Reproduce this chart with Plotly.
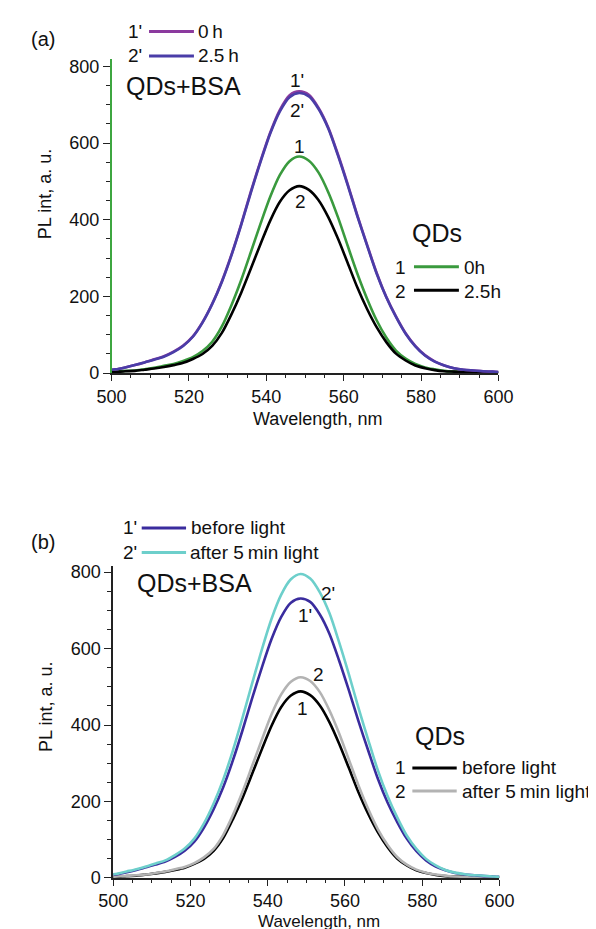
import plotly.graph_objects as go

W, H = 596, 929

# ---------------- data ----------------
WAVELENGTH = [500, 501, 503.5, 506, 508.5, 511, 513.5, 516, 518.5, 521, 523.5,
              526, 528.5, 531, 533.5, 536, 538.5, 541, 543.5, 546, 548.5,
              551, 553.5, 556, 558.5, 561, 563.5, 566, 568.5, 571, 573.5,
              576, 578.5, 581, 583.5, 586, 588.5, 591, 593.5, 596, 598.5, 600]

# panel (a)
A_BSA_0H = [9, 10, 15, 21, 28, 36, 44, 56, 72, 96, 133,
            181, 240, 310, 389, 474, 554, 628, 687, 725, 735,
            726, 692, 641, 571, 494, 412, 336, 262, 199, 148,
            104, 71, 47, 31, 20, 13, 9, 7, 5, 4, 3]
A_BSA_25H = [9, 10, 15, 21, 28, 35, 43, 55, 71, 95, 132,
             180, 238, 308, 387, 471, 551, 625, 683, 720, 731,
             722, 689, 638, 568, 491, 410, 334, 260, 198, 147,
             103, 70, 46, 30, 20, 13, 9, 7, 5, 4, 3]
A_QD_0H = [3, 4, 6, 7, 10, 14, 19, 24, 32, 42, 58,
           82, 122, 178, 243, 316, 390, 460, 517, 553, 565,
           554, 523, 472, 407, 333, 260, 195, 138, 93, 59,
           38, 24, 15, 10, 6, 4, 3, 2, 2, 1, 1]
A_QD_25H = [3, 3, 5, 6, 9, 12, 16, 21, 27, 37, 50,
            71, 105, 154, 210, 273, 337, 398, 447, 477, 488,
            478, 451, 407, 351, 288, 224, 168, 120, 81, 51,
            33, 20, 13, 8, 5, 4, 3, 2, 1, 1, 1]

# panel (b)
B_BSA_BEFORE = [9, 10, 15, 21, 28, 35, 43, 55, 71, 95, 132,
                180, 238, 308, 387, 471, 551, 625, 683, 720, 731,
                722, 689, 638, 568, 491, 410, 334, 260, 198, 147,
                103, 70, 46, 30, 20, 13, 9, 7, 5, 4, 3]
B_BSA_AFTER = [10, 11, 17, 23, 30, 38, 46, 60, 77, 103, 143,
               195, 258, 334, 420, 510, 598, 678, 741, 781, 795,
               783, 747, 692, 616, 533, 445, 362, 282, 215, 159,
               111, 76, 50, 33, 21, 14, 10, 7, 6, 4, 3]
B_QD_BEFORE = [3, 3, 5, 6, 9, 12, 16, 21, 27, 37, 50,
               71, 105, 154, 210, 273, 337, 398, 447, 477, 488,
               478, 451, 407, 351, 288, 224, 168, 120, 81, 51,
               33, 20, 13, 8, 5, 4, 3, 2, 1, 1, 1]
B_QD_AFTER = [3, 4, 5, 7, 9, 13, 17, 23, 29, 39, 54,
              76, 113, 165, 226, 294, 362, 428, 480, 513, 525,
              515, 486, 438, 378, 310, 242, 181, 128, 87, 55,
              35, 22, 14, 9, 6, 4, 3, 2, 2, 1, 1]

X_TICKS = [500, 520, 540, 560, 580, 600]
Y_TICKS = [0, 200, 400, 600, 800]

# ---------------- styling ----------------
FONT = "Liberation Sans, Arial, sans-serif"
C_PURPLE = "#8B3A9E"
C_VIOLET = "#4A3DA8"
C_GREEN = "#3A9A3E"
C_BLACK = "#000000"
C_BLUE = "#3A2C9E"
C_CYAN = "#6DCFCB"
C_GRAY = "#B3B3B3"
LW = 2.6

fig = go.Figure()


def add_curve(y, color, xa, ya):
    fig.add_trace(go.Scatter(x=WAVELENGTH, y=y, mode="lines",
                             line=dict(color=color, width=LW, shape="spline",
                                       smoothing=0.8),
                             xaxis=xa, yaxis=ya, showlegend=False,
                             hoverinfo="skip"))


# panel (a)
add_curve(A_QD_0H, C_GREEN, "x", "y")
add_curve(A_QD_25H, C_BLACK, "x", "y")
add_curve(A_BSA_0H, C_PURPLE, "x", "y")
add_curve(A_BSA_25H, C_VIOLET, "x", "y")
# panel (b)
add_curve(B_QD_BEFORE, C_BLACK, "x2", "y2")
add_curve(B_QD_AFTER, C_GRAY, "x2", "y2")
add_curve(B_BSA_BEFORE, C_BLUE, "x2", "y2")
add_curve(B_BSA_AFTER, C_CYAN, "x2", "y2")


def xaxis(domain, anchor):
    return dict(domain=domain, anchor=anchor, range=[500, 600],
                tickvals=X_TICKS, ticks="outside", ticklen=6, tickwidth=1.3,
                tickcolor="#222", showline=True, linecolor="#222", linewidth=1.5,
                showgrid=False, zeroline=False,
                tickfont=dict(family=FONT, size=18, color="#111"),
                minor=dict(dtick=5, tick0=500, ticks="outside", ticklen=3.5,
                           tickwidth=1.2, tickcolor="#222", showgrid=False))


def yaxis(domain, anchor, top, linecolor):
    return dict(domain=domain, anchor=anchor, range=[0, top],
                tickvals=Y_TICKS, ticks="outside", ticklen=7, tickwidth=1.3,
                tickcolor="#222", showline=True, linecolor=linecolor, linewidth=1.5,
                showgrid=False, zeroline=False,
                tickfont=dict(family=FONT, size=18, color="#111"),
                minor=dict(dtick=50, tick0=0, ticks="outside", ticklen=4,
                           tickwidth=1.2, tickcolor="#222", showgrid=False))


fig.update_layout(
    width=W, height=H, autosize=False,
    margin=dict(l=0, r=0, t=0, b=0),
    paper_bgcolor="white", plot_bgcolor="white",
    showlegend=False,
    xaxis=xaxis([93.3 / W, 500.7 / W], "y"),
    yaxis=yaxis([1 - 367.3 / H, 1 - 48.5 / H], "x", 820, "#3DA640"),
    xaxis2=xaxis([95 / W, 501.7 / W], "y2"),
    yaxis2=yaxis([1 - 879.3 / H, 1 - 562.8 / H], "x2", 816, "#222"),
)

ann = []
shapes = []


def txt(s, x, y, size, xanchor="center", angle=0):
    ann.append(dict(text=s, x=x / W, y=1 - y / H, xref="paper", yref="paper",
                    xanchor=xanchor, yanchor="middle", showarrow=False,
                    textangle=angle, font=dict(family=FONT, size=size, color="#111")))


def seg(x0, x1, y, color):
    shapes.append(dict(type="line", xref="paper", yref="paper",
                       x0=x0 / W, x1=x1 / W, y0=1 - y / H, y1=1 - y / H,
                       line=dict(color=color, width=3)))


# ---- panel (a) texts ----
txt("(a)", 21.5, 28, 20)
txt("1'", 127, 20.5, 19, "right")
seg(132.7, 180, 20.7, C_PURPLE)
txt("0\u2009h", 182.5, 20.5, 19, "left")
txt("2'", 127, 45.5, 19, "right")
seg(132.7, 180, 45.7, C_VIOLET)
txt("2.5\u2009h", 182.5, 45.5, 19, "left")
txt("QDs+BSA", 106, 76.5, 25, "left")
txt("1'", 289, 70, 19)
txt("2'", 289, 101, 19)
txt("1", 291.5, 137, 19)
txt("2", 292.5, 193, 19)
txt("QDs", 407, 225, 25, "left")
txt("1", 405, 260, 19, "right")
seg(411.7, 459, 259.3, C_GREEN)
txt("0h", 462, 260, 19, "left")
txt("2", 405, 284, 19, "right")
seg(411.7, 459, 283.3, C_BLACK)
txt("2.5h", 462, 284, 19, "left")
txt("PL int, a. u.", 24, 186, 18, angle=-90)
txt("Wavelength, nm", 310, 414, 18)

# ---- panel (b) texts ----
txt("(b)", 21.5, 539, 20)
txt("1'", 122, 524, 19, "right")
seg(125, 171.7, 524.3, C_BLUE)
txt("before light", 175, 524, 19, "left")
txt("2'", 122, 549, 19, "right")
seg(125, 171.7, 549.3, C_CYAN)
txt("after 5\u2009min light", 174, 549, 19, "left")
txt("QDs+BSA", 117.5, 580, 25, "left")
txt("2'", 321.5, 591, 19)
txt("1'", 297, 613, 19)
txt("2", 311, 673, 19)
txt("1", 294, 707.5, 19)
txt("QDs", 411, 735, 25, "left")
txt("1", 405, 767.5, 19, "right")
seg(410, 456.7, 767.7, C_BLACK)
txt("before light", 460, 767.5, 19, "left")
txt("2", 405, 791.5, 19, "right")
seg(410, 456.7, 791, C_GRAY)
txt("after 5\u2009min light", 460, 791.5, 19, "left")
txt("PL int, a. u.", 24, 706, 18, angle=-90)
txt("Wavelength, nm", 312, 923, 17)

fig.update_layout(annotations=ann, shapes=shapes)

fig.write_html("out.html")
